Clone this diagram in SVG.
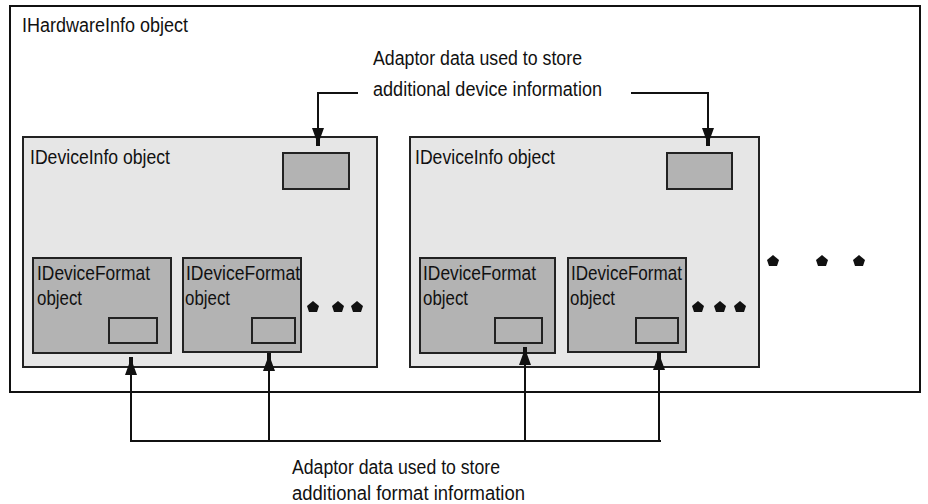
<svg xmlns="http://www.w3.org/2000/svg" width="928" height="504" viewBox="0 0 928 504">
<style>
.t{font-family:"Liberation Sans",Arial,sans-serif;font-size:20px;fill:#111}
.outer{fill:#fff;stroke:#111;stroke-width:2}
.dev{fill:#e6e6e6;stroke:#222;stroke-width:2}
.fmt{fill:#b3b3b3;stroke:#222;stroke-width:2}
.ln{fill:none;stroke:#111;stroke-width:2}
.ah{fill:#111}
.dot{fill:#111}
</style>
<defs>
<path id="up" d="M-2,0 L2,0 L2,7 L6,18 L-6,18 L-2,7 Z"/>
<path id="dn" d="M-2,0 L2,0 L2,-7 L6,-18 L-6,-18 L-2,-7 Z"/>
<path id="pent" d="M0,-6 L6,-1 L4,5 L-4,5 L-6,-1 Z"/>
</defs>
<g id="hardware">
<rect class="outer" x="10" y="6" width="910" height="386"/>
<text class="t" x="22" y="32" textLength="166" lengthAdjust="spacingAndGlyphs">IHardwareInfo object</text>
</g>
<g id="device1">
<rect class="dev" x="23" y="137" width="354" height="230"/>
<text class="t" x="30" y="164" textLength="140" lengthAdjust="spacingAndGlyphs">IDeviceInfo object</text>
<rect class="fmt" x="283" y="153" width="66" height="36"/>
</g>
<g id="device2">
<rect class="dev" x="410" y="137" width="349" height="230"/>
<text class="t" x="415" y="164" textLength="140" lengthAdjust="spacingAndGlyphs">IDeviceInfo object</text>
<rect class="fmt" x="667" y="153" width="65" height="36"/>
</g>
<g id="format1">
<rect class="fmt" x="33" y="258" width="138" height="95"/>
<text class="t" x="37" y="280" textLength="113" lengthAdjust="spacingAndGlyphs">IDeviceFormat</text>
<text class="t" x="37" y="305" textLength="45" lengthAdjust="spacingAndGlyphs">object</text>
<rect class="fmt" x="109" y="318" width="48" height="25"/>
</g>
<g id="format2">
<rect class="fmt" x="183" y="258" width="118" height="94"/>
<text class="t" x="186" y="280" textLength="114" lengthAdjust="spacingAndGlyphs">IDeviceFormat</text>
<text class="t" x="185" y="305" textLength="45" lengthAdjust="spacingAndGlyphs">object</text>
<rect class="fmt" x="252" y="318" width="43" height="25"/>
</g>
<g id="format3">
<rect class="fmt" x="420" y="258" width="135" height="95"/>
<text class="t" x="423" y="280" textLength="113" lengthAdjust="spacingAndGlyphs">IDeviceFormat</text>
<text class="t" x="423" y="305" textLength="45" lengthAdjust="spacingAndGlyphs">object</text>
<rect class="fmt" x="495" y="318" width="47" height="25"/>
</g>
<g id="format4">
<rect class="fmt" x="568" y="258" width="118" height="94"/>
<text class="t" x="571" y="280" textLength="111" lengthAdjust="spacingAndGlyphs">IDeviceFormat</text>
<text class="t" x="570" y="305" textLength="45" lengthAdjust="spacingAndGlyphs">object</text>
<rect class="fmt" x="636" y="318" width="42" height="25"/>
</g>
<g id="dots">
<use href="#pent" class="dot" x="313" y="307"/>
<use href="#pent" class="dot" x="338" y="307"/>
<use href="#pent" class="dot" x="357" y="307"/>
<use href="#pent" class="dot" x="698" y="307"/>
<use href="#pent" class="dot" x="720" y="307"/>
<use href="#pent" class="dot" x="740" y="307"/>
<use href="#pent" class="dot" x="773" y="261"/>
<use href="#pent" class="dot" x="822" y="261"/>
<use href="#pent" class="dot" x="859" y="261"/>
</g>
<g id="labels">
<text class="t" x="373" y="65" textLength="209" lengthAdjust="spacingAndGlyphs">Adaptor data used to store</text>
<text class="t" x="373" y="96" textLength="229" lengthAdjust="spacingAndGlyphs">additional device information</text>
<text class="t" x="292" y="474" textLength="208" lengthAdjust="spacingAndGlyphs">Adaptor data used to store</text>
<text class="t" x="292" y="500" textLength="233" lengthAdjust="spacingAndGlyphs">additional format information</text>
</g>
<g id="connectors">
<path class="ln" d="M358,93 H318 V135"/>
<use href="#dn" class="ah" x="318" y="146"/>
<path class="ln" d="M631,93 H708 V135"/>
<use href="#dn" class="ah" x="708" y="146"/>
<path class="ln" d="M131,368 V441 H661 M269,366 V441 M525,360 V441 M659,364 V441"/>
<use href="#up" class="ah" x="131" y="357"/>
<use href="#up" class="ah" x="269" y="353"/>
<use href="#up" class="ah" x="525" y="347"/>
<use href="#up" class="ah" x="659" y="352"/>
</g>
</svg>
